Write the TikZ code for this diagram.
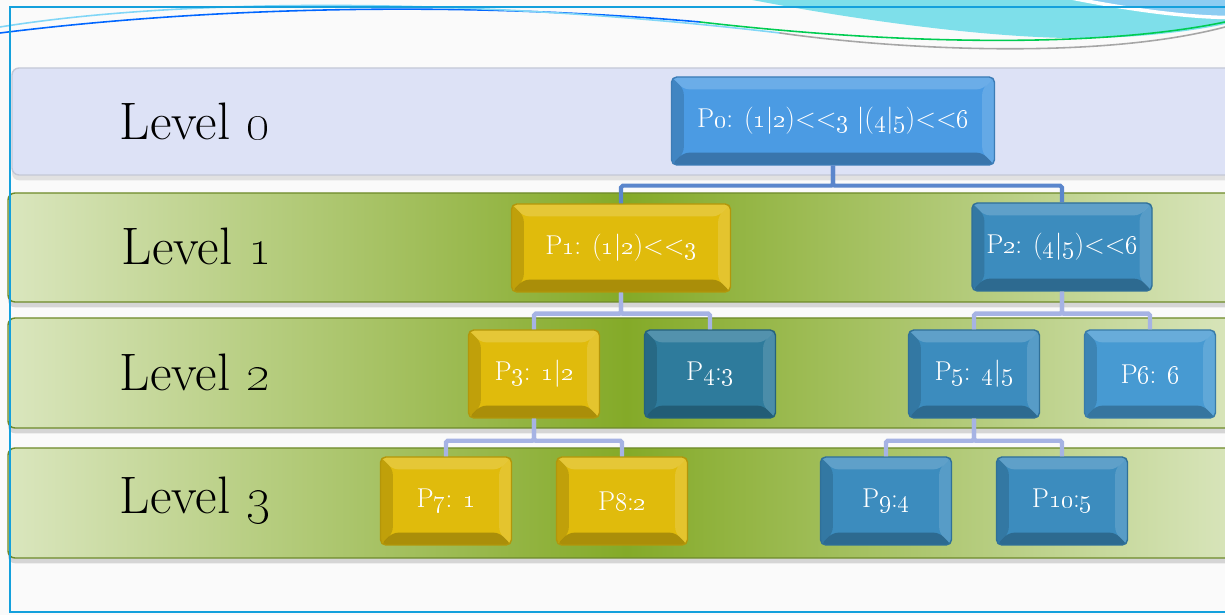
\documentclass[tikz,border=0pt]{standalone}
\usepackage{tikz}
\usetikzlibrary{shadows}
\usepackage{xcolor}
\definecolor{framecol}{HTML}{14A0DC}
\definecolor{wavecyan}{HTML}{7EDFEA}
\definecolor{waveblue}{HTML}{8CCDF2}
\definecolor{bandzero}{HTML}{DDE2F6}
\definecolor{bandzeroedge}{HTML}{C4C8D6}
\definecolor{bandlight}{HTML}{DAE6BE}
\definecolor{banddark}{HTML}{84AA28}
\definecolor{bandedge}{HTML}{6E8A2A}
\definecolor{procblue}{HTML}{4B9BE3}
\definecolor{procyel}{HTML}{E0BB0C}
\definecolor{procteal}{HTML}{3C8CBE}
\definecolor{procdark}{HTML}{2E7B9C}
\definecolor{proclight}{HTML}{479AD2}
\definecolor{toplink}{HTML}{5A86CC}
\definecolor{sublink}{HTML}{A6B3E4}

\begin{document}
\begin{tikzpicture}[line cap=round,
  level/.style={font=\fontsize{30}{36}\selectfont},
  bevel/.style={path picture={
    \path (path picture bounding box.north west) coordinate (bnw)
          (path picture bounding box.north east) coordinate (bne)
          (path picture bounding box.south east) coordinate (bse)
          (path picture bounding box.south west) coordinate (bsw);
    \fill[white,opacity=0.18] (bnw) -- (bne) -- ([shift={(-7pt,-7pt)}]bne) -- ([shift={(7pt,-7pt)}]bnw) -- cycle;
    \fill[black,opacity=0.14] (bnw) -- ([shift={(7pt,-7pt)}]bnw) -- ([shift={(7pt,7pt)}]bsw) -- (bsw) -- cycle;
    \fill[black,opacity=0.24] (bsw) -- (bse) -- ([shift={(-7pt,7pt)}]bse) -- ([shift={(7pt,7pt)}]bsw) -- cycle;
    \fill[white,opacity=0.14] (bse) -- (bne) -- ([shift={(-7pt,-7pt)}]bne) -- ([shift={(-7pt,7pt)}]bse) -- cycle;
  }},
  proc/.style={draw=#1!80!black, line width=0.8pt, fill=#1, rounded corners=3pt,
    text=white, minimum width=2.62cm, minimum height=1.76cm,
    font=\fontsize{15.5}{18}\selectfont, bevel},
  band/.style={draw=bandedge, line width=0.8pt, rounded corners=4pt,
    left color=bandlight, right color=bandlight, middle color=banddark,
    drop shadow={opacity=0.3, shadow xshift=0pt, shadow yshift=-3pt}},
  link/.style={draw=toplink, line width=2.3pt, rounded corners=1pt, line cap=butt},
  sub/.style={draw=sublink, line width=2.5pt, rounded corners=1pt, line cap=butt}]
\useasboundingbox (0,0) rectangle (24.5,12.3);
\fill[black!2] (0,0) rectangle (24.5,12.3);

% waves at the top
\fill[wavecyan] (14.54,12.4) .. controls (17,11.9) and (20,11.5) .. (21.88,11.54)
  .. controls (23,11.56) and (24,11.7) .. (24.6,11.84) -- (24.6,12.4) -- cycle;
\fill[waveblue,draw=white,line width=2pt] (20.9,12.45) .. controls (22.5,12.1) and (23.8,11.95) .. (24.6,11.95) -- (24.6,12.45) -- cycle;
\draw[blue!60!cyan,line width=0.9pt] (0,11.64) .. controls (4,12.14) and (9,12.3) .. (14,11.86);
\draw[green!60!cyan!80!black,line width=0.9pt] (14,11.86) .. controls (18,11.4) and (22,11.34) .. (24.5,11.86);
\draw[cyan!50!white,line width=0.9pt] (0,11.76) .. controls (4,12.4) and (10,12.3) .. (15.6,11.64);
\draw[black!35,line width=0.9pt] (15.6,11.64) .. controls (18,11.3) and (22,11.1) .. (24.5,11.76);

% level bands
\path[draw=bandzeroedge,fill=bandzero,line width=0.8pt,rounded corners=4pt,
  drop shadow={opacity=0.2, shadow xshift=0pt, shadow yshift=-3pt}] (0.24,8.8) rectangle (24.9,10.94);
\path[band] (0.16,6.26) rectangle (24.9,8.44);
\path[band] (0.16,3.74) rectangle (24.9,5.94);
\path[band] (0.16,1.14) rectangle (24.9,3.34);

\node[level] (lv0) at (3.9,9.88) {Level \oldstylenums{0}};
\node[level] (lv1) at (3.94,7.38) {Level \oldstylenums{1}};
\node[level] (lv2) at (3.9,4.86) {Level \oldstylenums{2}};
\node[level] (lv3) at (3.9,2.3) {Level \oldstylenums{3}};

% process tree
\node[proc=procblue,minimum width=6.46cm] (p0) at (16.66,9.88)
  {P\oldstylenums{0}: (\oldstylenums{1}|\oldstylenums{2})<\kern0pt<\oldstylenums{3} |(\oldstylenums{4}|\oldstylenums{5})<\kern0pt<\oldstylenums{6}};
\node[proc=procyel,minimum width=4.38cm] (p1) at (12.42,7.34)
  {P\oldstylenums{1}: (\oldstylenums{1}|\oldstylenums{2})<\kern0pt<\oldstylenums{3}};
\node[proc=procteal,minimum width=3.6cm] (p2) at (21.24,7.36)
  {P\oldstylenums{2}: (\oldstylenums{4}|\oldstylenums{5})<\kern0pt<\oldstylenums{6}};
\node[proc=procyel] (p3) at (10.68,4.82) {P\oldstylenums{3}: \oldstylenums{1}|\oldstylenums{2}};
\node[proc=procdark] (p4) at (14.2,4.82) {P\oldstylenums{4}:\oldstylenums{3}};
\node[proc=procteal] (p5) at (19.48,4.82) {P\oldstylenums{5}: \oldstylenums{4}|\oldstylenums{5}};
\node[proc=proclight] (p6) at (23.0,4.82) {P\oldstylenums{6}: \oldstylenums{6}};
\node[proc=procyel] (p7) at (8.92,2.28) {P\oldstylenums{7}: \oldstylenums{1}};
\node[proc=procyel] (p8) at (12.44,2.28) {P\oldstylenums{8}:\oldstylenums{2}};
\node[proc=procteal] (p9) at (17.72,2.28) {P\oldstylenums{9}:\oldstylenums{4}};
\node[proc=procteal] (p10) at (21.24,2.28) {P\oldstylenums{10}:\oldstylenums{5}};

\draw[link] (p0.south) -- ++(0,-0.4) -| (p1.north);
\draw[link] (p0.south) -- ++(0,-0.4) -| (p2.north);
\draw[sub] (p1.south) -- ++(0,-0.42) -| (p3.north);
\draw[sub] (p1.south) -- ++(0,-0.42) -| (p4.north);
\draw[sub] (p2.south) -- ++(0,-0.44) -| (p5.north);
\draw[sub] (p2.south) -- ++(0,-0.44) -| (p6.north);
\draw[sub] (p3.south) -- ++(0,-0.44) -| (p7.north);
\draw[sub] (p3.south) -- ++(0,-0.44) -| (p8.north);
\draw[sub] (p5.south) -- ++(0,-0.44) -| (p9.north);
\draw[sub] (p5.south) -- ++(0,-0.44) -| (p10.north);

% frame
\draw[framecol,line width=1.2pt] (24.6,12.16) -- (0.2,12.16) -- (0.2,0.06) -- (24.6,0.06);
\end{tikzpicture}
\end{document}
